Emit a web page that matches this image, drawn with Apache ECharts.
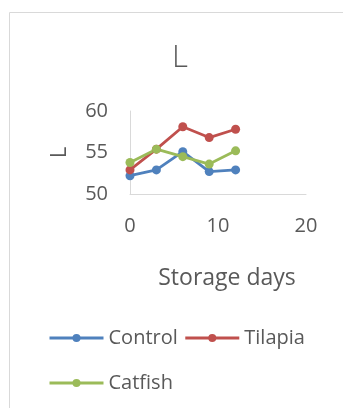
<!DOCTYPE html>
<html><head><meta charset="utf-8">
<script src="https://cdn.jsdelivr.net/npm/echarts@6/dist/echarts.min.js"></script>
<style>html,body{margin:0;padding:0;background:#fff}#c{width:343px;height:408px}</style>
</head><body><div id="c"></div>
<script>
var days = [0, 3, 6, 9, 12];
var control = [52.2, 52.9, 55.1, 52.7, 52.9];
var tilapia = [52.9, 55.4, 58.1, 56.8, 57.8];
var catfish = [53.8, 55.4, 54.5, 53.6, 55.2];
var seriesNames = ['Control', 'Tilapia', 'Catfish'];
var colors = ['#4f81bd', '#c0504d', '#9bbb59'];
var font = 'Open Sans';
function pairs(v){ return days.map(function(d,i){ return [d, v[i]]; }); }
var chart = echarts.init(document.getElementById('c'));
var mk = function(name, data, color){
  return { name: name, type: 'line', data: pairs(data), symbol: 'circle', symbolSize: 9,
    lineStyle: { color: color, width: 2.8 }, itemStyle: { color: color }, animation: false };
};
chart.setOption({
  animation: false,
  graphic: [{ type: 'rect', shape: { x: 9.5, y: 12.5, width: 340, height: 400 }, style: { fill: 'none', stroke: '#d9d9d9', lineWidth: 1 } }],
  title: { text: 'L', left: 175, top: 38, textAlign: 'center', textStyle: { fontFamily: font, fontSize: 31, fontWeight: 300, color: '#595959' } },
  grid: { left: 130, right: 37, top: 111, bottom: 214 },
  xAxis: { type: 'value', min: 0, max: 20, interval: 10,
    name: 'Storage days', nameLocation: 'middle', nameGap: 73,
    nameTextStyle: { fontFamily: font, fontSize: 23, color: '#595959', padding: [0, 0, 0, 18] },
    axisLine: { lineStyle: { color: '#d9d9d9' } }, axisTick: { show: false }, splitLine: { show: false },
    axisLabel: { fontFamily: font, fontSize: 20, color: '#595959', margin: 22 } },
  yAxis: { type: 'value', min: 50, max: 60, interval: 5,
    name: 'L', nameLocation: 'middle', nameGap: 59, nameRotate: 90,
    nameTextStyle: { fontFamily: font, fontSize: 22, color: '#595959' },
    axisLine: { show: true, lineStyle: { color: '#d9d9d9' } }, axisTick: { show: false }, splitLine: { show: false },
    axisLabel: { fontFamily: font, fontSize: 20, color: '#595959', margin: 22 } },
  legend: [
    { data: ['Control', 'Tilapia'], left: 43, top: 323, itemWidth: 54, itemHeight: 10, itemGap: 6,
      lineStyle: { width: 3 },
      textStyle: { fontFamily: font, fontSize: 20, color: '#595959' } },
    { data: ['Catfish'], left: 43, top: 368, itemWidth: 54, itemHeight: 10,
      lineStyle: { width: 3 },
      textStyle: { fontFamily: font, fontSize: 20, color: '#595959' } }
  ],
  series: [ mk(seriesNames[0], control, colors[0]), mk(seriesNames[1], tilapia, colors[1]), mk(seriesNames[2], catfish, colors[2]) ]
});
</script></body></html>
